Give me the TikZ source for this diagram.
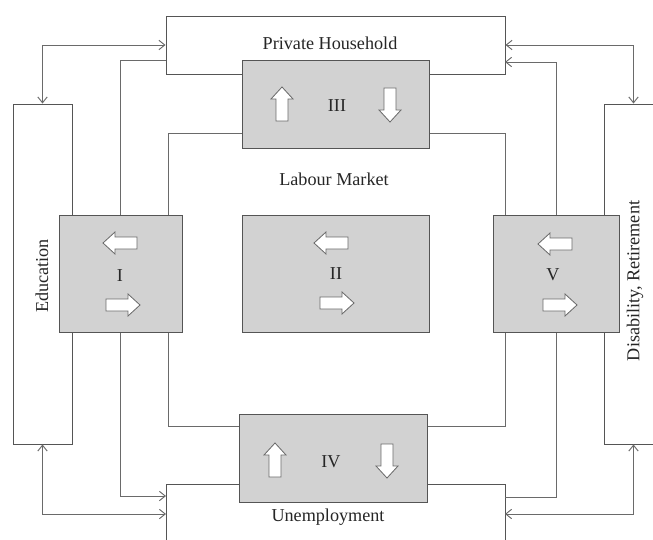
\documentclass[tikz,border=0pt]{standalone}
\usepackage{fontspec}
\setmainfont{Liberation Serif}
\usetikzlibrary{fit,arrows.meta,backgrounds}
\definecolor{linegray}{HTML}{6A6A6A}
\definecolor{boxline}{HTML}{555555}
\definecolor{boxfill}{HTML}{D2D2D2}
\begin{document}
\begin{tikzpicture}[x=0.03cm,y=-0.03cm,
  font=\fontsize{15.5}{18}\selectfont,
  whitebox/.style={draw=boxline,fill=white,line width=0.8pt,inner sep=0pt},
  graybox/.style={draw=boxline,fill=boxfill,line width=0.8pt,inner sep=0pt},
  conn/.style={draw=linegray,line width=0.8pt},
  tip/.style={-{Straight Barb[length=5pt,width=8pt]}},
  bitip/.style={{Straight Barb[length=5pt,width=8pt]}-{Straight Barb[length=5pt,width=8pt]}},
  label/.style={inner sep=0pt,text=black!85},
  blkarr/.pic={\draw[draw=linegray,fill=white,line width=0.7pt]
     (-17,-6) -- (5,-6) -- (5,-11) -- (17,0) -- (5,11) -- (5,6) -- (-17,6) -- cycle;}
]
\useasboundingbox (0,0) rectangle (653,540);
\clip (0,0) rectangle (653,540);
% gray boxes (main layer, on top)
\node[graybox,fit={(59,215)(182,332)}] (b1) {};
\node[graybox,fit={(242,215)(429,332)}] (b2) {};
\node[graybox,fit={(242,60)(429,148)}] (b3) {};
\node[graybox,fit={(239,414)(427,502)}] (b4) {};
\node[graybox,fit={(493,215)(619,332)}] (b5) {};
\begin{pgfonlayer}{background}
% white boxes
\node[whitebox,fit={(166,16)(505,74)}] (ph) {};
\node[whitebox,fit={(166,484)(505,570)}] (unemp) {};
\node[whitebox,fit={(13,104)(72,444)}] (edu) {};
\node[whitebox,fit={(604,104)(663,444)}] (dis) {};
% coordinates for connectors
\coordinate (phA) at (166,60);
\coordinate (phB) at (505,62);
\coordinate (unA) at (166,496);
\coordinate (unB) at (505,497);
\coordinate (unL) at (166,514);
\coordinate (unR) at (505,514);
% connectors
\draw[conn,bitip] (edu.north) |- (ph.west);
\draw[conn,bitip] (dis.north) |- (ph.east);
\draw[conn,bitip] (edu.south) |- (unL);
\draw[conn,bitip] (dis.south) |- (unR);
\draw[conn,tip] (phA) -| (120,496) -- (unA);
\draw[conn,tip] (unB) -| (556,62) -- (phB);
\draw[conn] (b1.north -| 168,0) |- (b3.west |- 0,133);
\draw[conn] (b1.south -| 168,0) |- (b4.west |- 0,426);
\draw[conn] (b5.north -| 505,0) |- (b3.east |- 0,133);
\draw[conn] (b5.south -| 505,0) |- (b4.east |- 0,426);
\end{pgfonlayer}
% labels
\node[label] (tph) at (330,43) {Private Household};
\node[label] (tlm) at (334,179) {Labour Market};
\node[label] (tun) at (328,517) {Unemployment};
\node[label,rotate=90] (ted) at (42,276) {Education};
\node[label,rotate=90] (tdi) at (635,281) {Disability, Retirement};
\node[label] (t1) at (120,276) {I};
\node[label] (t2) at (336,274) {II};
\node[label] (t3) at (337,106) {III};
\node[label] (t4) at (331,462) {IV};
\node[label] (t5) at (553,275) {V};
% block arrows
\pic[rotate=180] at (120,243) {blkarr};
\pic at (123,305) {blkarr};
\pic[rotate=180] at (331,243) {blkarr};
\pic at (337,303) {blkarr};
\pic[rotate=180] at (555,244) {blkarr};
\pic at (560,305) {blkarr};
\pic[rotate=90] at (282,104) {blkarr};
\pic[rotate=-90] at (390,105) {blkarr};
\pic[rotate=90] at (275,460) {blkarr};
\pic[rotate=-90] at (387,461) {blkarr};
\end{tikzpicture}
\end{document}
